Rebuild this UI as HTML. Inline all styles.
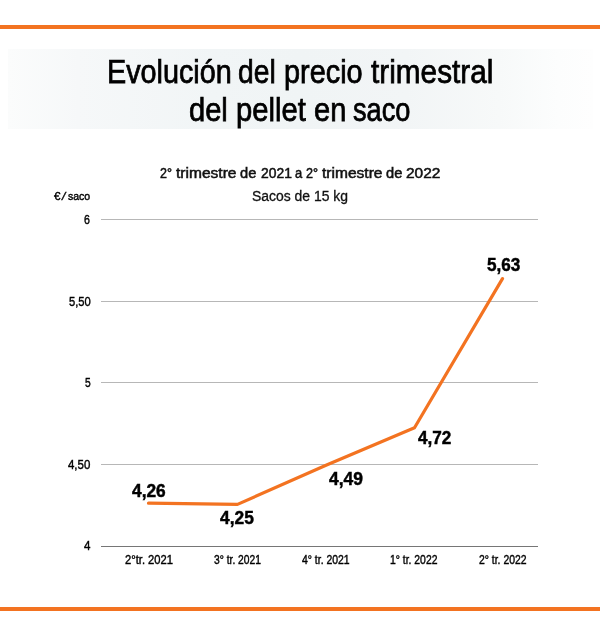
<!DOCTYPE html>
<html lang="es">
<head>
<meta charset="utf-8">
<title>Evolución del precio trimestral del pellet en saco</title>
<style>
  html, body { margin: 0; padding: 0; background: #ffffff; }
  body { width: 600px; height: 636px; position: relative; overflow: hidden;
         font-family: "Liberation Sans", "DejaVu Sans", sans-serif; color: #111; }
  .bar { position: absolute; left: 0; width: 600px; height: 4px; background: #f37321; }
  .titlebox { position: absolute; left: 8px; top: 49px; width: 585px; height: 80px;
    background: linear-gradient(to right, #fbfcfc 0%, #f6f8f9 12%, #f1f5f6 35%, #f0f4f5 50%, #f2f5f6 68%, #f7f9f9 84%, #fcfdfd 94%, #fefefe 100%); }
  .t { position: absolute; white-space: nowrap; line-height: 1; color: #111; transform-origin: 0 0; backface-visibility: hidden;
       font-family: "Liberation Sans", "DejaVu Sans", sans-serif; font-weight: 400; }
  svg { position: absolute; left: 0; top: 0; }
</style>
</head>
<body>
<div class="bar" style="top:25px"></div>
<div class="titlebox"></div>

<svg width="600" height="636" viewBox="0 0 600 636">
  <g stroke="#b7b7b7" stroke-width="1" fill="none">
    <line x1="101" y1="219.5" x2="538" y2="219.5"/>
    <line x1="101" y1="301.5" x2="538" y2="301.5"/>
    <line x1="101" y1="382.5" x2="538" y2="382.5"/>
    <line x1="101" y1="464.5" x2="538" y2="464.5"/>
  </g>
  <line x1="101" y1="546.5" x2="538" y2="546.5" stroke="#767676" stroke-width="1"/>
  <polyline points="148.5,503.2 237.5,504.4 326,465.3 414.5,427.8 502.5,278.6"
    fill="none" stroke="#f37321" stroke-width="3.2" stroke-linejoin="round" stroke-linecap="round"/>
</svg>

<div class="t" style="left:106.53px;top:56.00px;font-size:32.5px;-webkit-text-stroke:0.75px #000;color:#000;transform:scaleX(0.8854)">Evolución</div>
<div class="t" style="left:238.43px;top:56.00px;font-size:32.5px;-webkit-text-stroke:0.75px #000;color:#000;transform:scaleX(0.8683)">del</div>
<div class="t" style="left:284.22px;top:56.00px;font-size:32.5px;-webkit-text-stroke:0.75px #000;color:#000;transform:scaleX(0.8884)">precio</div>
<div class="t" style="left:371.30px;top:56.00px;font-size:32.5px;-webkit-text-stroke:0.75px #000;color:#000;transform:scaleX(0.9159)">trimestral</div>
<div class="t" style="left:189.30px;top:93.60px;font-size:32.5px;-webkit-text-stroke:0.75px #000;color:#000;transform:scaleX(0.8951)">del</div>
<div class="t" style="left:235.90px;top:93.60px;font-size:32.5px;-webkit-text-stroke:0.75px #000;color:#000;transform:scaleX(0.8987)">pellet</div>
<div class="t" style="left:314.01px;top:93.60px;font-size:32.5px;-webkit-text-stroke:0.75px #000;color:#000;transform:scaleX(0.8941)">en</div>
<div class="t" style="left:352.56px;top:93.60px;font-size:32.5px;-webkit-text-stroke:0.75px #000;color:#000;transform:scaleX(0.8373)">saco</div>
<div class="t" style="left:160.40px;top:166.00px;font-size:14px;-webkit-text-stroke:0.5px #111;transform:scaleX(0.8923)">2°</div>
<div class="t" style="left:176.40px;top:166.00px;font-size:14px;-webkit-text-stroke:0.5px #111;transform:scaleX(1.1111)">trimestre</div>
<div class="t" style="left:240.30px;top:166.00px;font-size:14px;-webkit-text-stroke:0.5px #111;transform:scaleX(1.0467)">de</div>
<div class="t" style="left:261.00px;top:166.00px;font-size:14px;-webkit-text-stroke:0.5px #111;transform:scaleX(0.9903)">2021</div>
<div class="t" style="left:294.60px;top:166.00px;font-size:14px;-webkit-text-stroke:0.5px #111;transform:scaleX(0.9250)">a</div>
<div class="t" style="left:305.60px;top:166.00px;font-size:14px;-webkit-text-stroke:0.5px #111;transform:scaleX(0.9000)">2°</div>
<div class="t" style="left:322.30px;top:166.00px;font-size:14px;-webkit-text-stroke:0.5px #111;transform:scaleX(1.1111)">trimestre</div>
<div class="t" style="left:386.30px;top:166.00px;font-size:14px;-webkit-text-stroke:0.5px #111;transform:scaleX(1.0467)">de</div>
<div class="t" style="left:405.70px;top:166.00px;font-size:14px;-webkit-text-stroke:0.5px #111;transform:scaleX(1.1065)">2022</div>
<div class="t" style="left:251.51px;top:189.25px;font-size:14px;-webkit-text-stroke:0.3px #111;transform:scaleX(0.9947)">Sacos de 15 kg</div>
<div class="t" style="left:53.70px;top:191.30px;font-size:11px;-webkit-text-stroke:0.4px #000;color:#000;transform:scaleX(1.0500)">€</div>
<div class="t" style="left:62.10px;top:191.30px;font-size:11px;font-style:italic;-webkit-text-stroke:0.4px #000;color:#000;transform:scaleX(1.1000)">/</div>
<div class="t" style="left:68.40px;top:191.30px;font-size:11px;-webkit-text-stroke:0.4px #000;color:#000;transform:scaleX(0.9565)">saco</div>
<div class="t" style="left:84.30px;top:213.80px;font-size:12.5px;-webkit-text-stroke:0.4px #000;color:#000;transform:scaleX(0.8500)">6</div>
<div class="t" style="left:68.75px;top:295.75px;font-size:12.5px;-webkit-text-stroke:0.4px #000;color:#000;transform:scaleX(0.8958)">5,50</div>
<div class="t" style="left:84.50px;top:376.75px;font-size:12.5px;-webkit-text-stroke:0.4px #000;color:#000;transform:scaleX(0.8214)">5</div>
<div class="t" style="left:68.25px;top:458.50px;font-size:12.5px;-webkit-text-stroke:0.4px #000;color:#000;transform:scaleX(0.9167)">4,50</div>
<div class="t" style="left:84.00px;top:539.75px;font-size:12.5px;-webkit-text-stroke:0.4px #000;color:#000;transform:scaleX(0.9286)">4</div>
<div class="t" style="left:124.90px;top:553.65px;font-size:12px;-webkit-text-stroke:0.4px #000;color:#000;transform:scaleX(0.9314)">2°tr. 2021</div>
<div class="t" style="left:213.80px;top:553.65px;font-size:12px;-webkit-text-stroke:0.4px #000;color:#000;transform:scaleX(0.8564)">3° tr. 2021</div>
<div class="t" style="left:302.30px;top:553.65px;font-size:12px;-webkit-text-stroke:0.4px #000;color:#000;transform:scaleX(0.8691)">4° tr. 2021</div>
<div class="t" style="left:390.24px;top:553.65px;font-size:12px;-webkit-text-stroke:0.4px #000;color:#000;transform:scaleX(0.8648)">1° tr. 2022</div>
<div class="t" style="left:478.80px;top:553.65px;font-size:12px;-webkit-text-stroke:0.4px #000;color:#000;transform:scaleX(0.8673)">2° tr. 2022</div>
<div class="t" style="left:132.10px;top:482.50px;font-size:17.5px;font-weight:700;-webkit-text-stroke:0.45px #000;color:#000;transform:scaleX(0.9912)">4,26</div>
<div class="t" style="left:220.00px;top:509.60px;font-size:17.5px;font-weight:700;-webkit-text-stroke:0.45px #000;color:#000;transform:scaleX(0.9926)">4,25</div>
<div class="t" style="left:329.00px;top:471.30px;font-size:17.5px;font-weight:700;-webkit-text-stroke:0.45px #000;color:#000;transform:scaleX(0.9971)">4,49</div>
<div class="t" style="left:417.90px;top:430.20px;font-size:17.5px;font-weight:700;-webkit-text-stroke:0.45px #000;color:#000;transform:scaleX(0.9809)">4,72</div>
<div class="t" style="left:486.70px;top:257.10px;font-size:17.5px;font-weight:700;-webkit-text-stroke:0.45px #000;color:#000;transform:scaleX(0.9794)">5,63</div>

<div class="bar" style="top:607px"></div>
</body>
</html>
